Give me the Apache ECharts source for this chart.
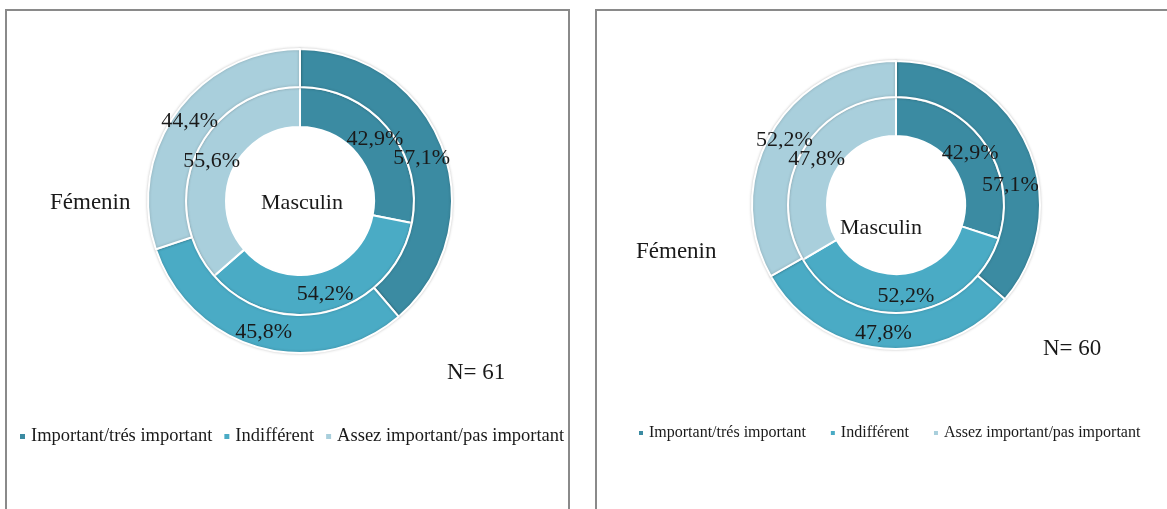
<!DOCTYPE html>
<html>
<head>
<meta charset="utf-8">
<script src="https://cdn.jsdelivr.net/npm/echarts@6/dist/echarts.min.js"></script>
<style>
  html, body { margin: 0; padding: 0; background: #fff; }
  #chart { width: 1167px; height: 509px; }
</style>
</head>
<body>
<div id="chart"></div>
<script>
  // categories (legend order)
  var categories = ['Important/trés important', 'Indifférent', 'Assez important/pas important'];
  var colors = ['#3b8ba2', '#4aabc5', '#a9cfdc'];

  // left chart (N= 61)
  var leftInner = [42.9, 54.2, 55.6];
  var leftOuter = [57.1, 45.8, 44.4];
  // right chart (N= 60)
  var rightInner = [42.9, 52.2, 47.8];
  var rightOuter = [57.1, 47.8, 52.2];

  var ringNames = ['Masculin', 'Fémenin'];
  var sampleLabels = ['N= 61', 'N= 60'];

  var FONT = '"Liberation Serif", "DejaVu Serif", serif';
  var INK = '#1a1a1a';

  function toData(values) {
    return values.map(function (v, i) {
      return { name: categories[i], value: v, itemStyle: { color: colors[i] } };
    });
  }

  function ring(values, center, radius, outer, nudge) {
    return {
      type: 'pie',
      center: center,
      radius: radius,
      startAngle: 90,
      clockwise: true,
      silent: true,
      avoidLabelOverlap: false,
      itemStyle: outer
        ? { borderColor: '#fff', borderWidth: 2, shadowBlur: 3, shadowColor: 'rgba(0,0,0,0.2)' }
        : { borderColor: '#fff', borderWidth: 2 },
      label: {
        show: true,
        position: 'inside',
        color: INK,
        fontFamily: FONT,
        fontSize: 22,
        formatter: function (p) { return p.value.toFixed(1).replace('.', ',') + '%'; }
      },
      labelLine: { show: false },
      labelLayout: function (p) {
        // Excel pushed a few labels off the slice centre
        var d = nudge && nudge[p.dataIndex];
        return d ? { dx: d[0], dy: d[1], hideOverlap: false } : { hideOverlap: false };
      },
      data: toData(values)
    };
  }

  function txt(x, y, s, align, size) {
    return {
      type: 'text', x: x, y: y, silent: true,
      style: { text: s, fontFamily: FONT, fontSize: size || 22, fill: INK, align: align, verticalAlign: 'middle' }
    };
  }

  var chart = echarts.init(document.getElementById('chart'));

  var option = {
    animation: false,
    legend: [{
      data: categories,
      left: 13,
      top: 422,
      icon: 'rect',
      itemWidth: 7,
      itemHeight: 7,
      itemGap: 10,
      textStyle: { fontFamily: FONT, fontSize: 18.5, color: INK }
    }, {
      data: categories,
      left: 632,
      top: 420,
      icon: 'rect',
      itemWidth: 6,
      itemHeight: 6,
      itemGap: 23,
      textStyle: { fontFamily: FONT, fontSize: 16, color: INK }
    }],
    series: [
      ring(leftInner, [300, 201], [74, 114], false),
      ring(leftOuter, [300, 201], [114, 152], true, { 0: [-6, 4] }),
      ring(rightInner, [896, 205], [69, 108], false, { 0: [0, 2] }),
      ring(rightOuter, [896, 205], [108, 144], true, { 0: [-3, 34] })
    ],
    graphic: [
      { type: 'rect', silent: true, shape: { x: 6, y: 10, width: 563, height: 520 },
        style: { fill: null, stroke: '#8a8a8a', lineWidth: 2 } },
      { type: 'rect', silent: true, shape: { x: 596, y: 10, width: 600, height: 520 },
        style: { fill: null, stroke: '#8a8a8a', lineWidth: 2 } },
      txt(302, 203, ringNames[0], 'center'),
      txt(50, 203, ringNames[1], 'left', 23),
      txt(447, 373, sampleLabels[0], 'left', 23),
      txt(881, 228, ringNames[0], 'center'),
      txt(636, 252, ringNames[1], 'left', 23),
      txt(1043, 349, sampleLabels[1], 'left', 23)
    ]
  };

  chart.setOption(option);
</script>
</body>
</html>
